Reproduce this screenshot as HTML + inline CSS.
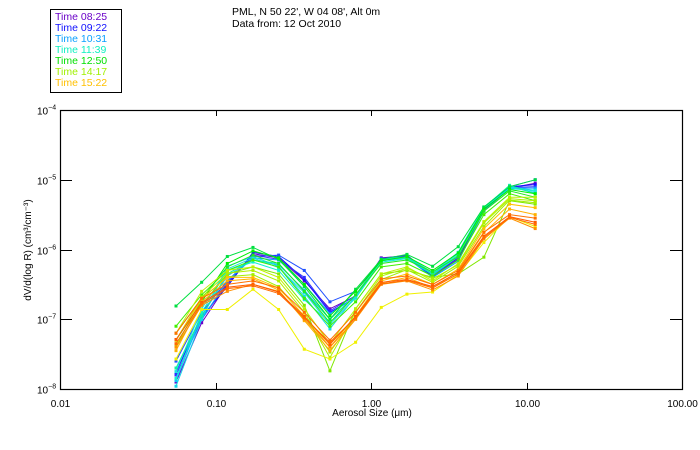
<!DOCTYPE html>
<html><head><meta charset="utf-8"><style>
html,body{margin:0;padding:0;background:#fff;}
svg{display:block;font-family:"Liberation Sans",sans-serif;}
</style></head><body>
<svg id="chart" width="700" height="450" xmlns="http://www.w3.org/2000/svg">
<rect width="700" height="450" fill="#fff"/>
<g>
<rect x="50.5" y="9.5" width="71" height="83" fill="none" stroke="#000" stroke-width="1"/>
<g id="legendItems" font-size="10.5"></g>
</g>
<text x="232" y="15" font-size="10.5" fill="#000">PML, N 50 22', W 04 08', Alt 0m</text>
<text x="232" y="27" font-size="10.5" fill="#000">Data from: 12 Oct 2010</text>
<g id="axes"></g>
<g id="series"></g>
<text x="372" y="416" font-size="10" text-anchor="middle" fill="#000">Aerosol Size (μm)</text>
<text transform="translate(31,250) rotate(-90)" font-size="10" text-anchor="middle" fill="#000">dV/d(log R) (cm³/cm⁻³)</text>
</svg>
<script>
// ---- data ----
const sizesLog = [-1.254,-1.089,-0.924,-0.759,-0.594,-0.429,-0.264,-0.099,0.066,0.231,0.396,0.561,0.726,0.891,1.056]; // log10 of size (µm)
const xTickLabels = ["0.01","0.10","1.00","10.00","100.00"];
const xTickValues = [-2,-1,0,1,2];
const yTickValues = [-4,-5,-6,-7,-8];
const yTickExps = ["−4","−5","−6","−7","−8"];
const legendLabels = ["Time 08:25","Time 09:22","Time 10:31","Time 11:39","Time 12:50","Time 14:17","Time 15:22"];
const legendColors = ["#6a00c8","#1010ff","#0aa0ff","#10f0c0","#00e000","#a0f000","#ffc000"];
// series values: log10 of dV/d(log R)
const sPurple  = [-7.90,-7.05,-6.50,-6.06,-6.12,-6.45,-6.85,-6.67,-6.12,-6.09,-6.38,-6.12,-5.45,-5.12,-5.05];
const sBlue1   = [-7.76,-6.96,-6.53,-6.04,-6.10,-6.43,-6.90,-6.69,-6.14,-6.10,-6.39,-6.14,-5.43,-5.10,-5.07];
const sBlue2   = [-7.60,-6.90,-6.45,-6.10,-6.08,-6.30,-6.75,-6.60,-6.15,-6.10,-6.35,-6.10,-5.40,-5.10,-5.00];
const sBlue3   = [-7.80,-7.00,-6.48,-6.08,-6.14,-6.40,-6.88,-6.66,-6.13,-6.08,-6.37,-6.11,-5.42,-5.11,-5.10];
const sLtBlue  = [-7.70,-7.00,-6.45,-6.12,-6.15,-6.50,-6.92,-6.68,-6.16,-6.12,-6.40,-6.17,-5.45,-5.12,-5.12];
const sLtBlue2 = [-7.88,-6.95,-6.38,-6.15,-6.22,-6.58,-7.00,-6.66,-6.15,-6.11,-6.36,-6.10,-5.41,-5.11,-5.15];
const sCyan1   = [-7.96,-7.00,-6.24,-6.10,-6.24,-6.67,-7.14,-6.67,-6.14,-6.10,-6.33,-6.04,-5.39,-5.10,-5.19];
const sCyan2   = [-7.85,-6.90,-6.30,-6.18,-6.30,-6.72,-7.05,-6.70,-6.18,-6.13,-6.36,-6.10,-5.42,-5.13,-5.15];
const sCyan3   = [-7.75,-6.85,-6.28,-6.12,-6.26,-6.62,-7.08,-6.68,-6.16,-6.12,-6.34,-6.06,-5.40,-5.09,-5.17];
const sAqua    = [-7.70,-6.95,-6.35,-6.15,-6.20,-6.60,-7.00,-6.65,-6.15,-6.12,-6.35,-6.08,-5.40,-5.08,-5.20];
const sGreen1  = [-6.81,-6.47,-6.10,-5.97,-6.14,-6.53,-7.00,-6.57,-6.14,-6.07,-6.24,-5.96,-5.39,-5.10,-5.00];
const sGreen2  = [-7.30,-6.75,-6.20,-6.02,-6.12,-6.50,-6.95,-6.60,-6.16,-6.10,-6.30,-6.05,-5.42,-5.14,-5.20];
const sGreen3  = [-7.10,-6.65,-6.30,-6.15,-6.25,-6.70,-7.10,-6.75,-6.25,-6.20,-6.38,-6.15,-5.50,-5.20,-5.30];
const sGreen4  = [-7.40,-6.80,-6.35,-6.25,-6.35,-6.80,-7.74,-6.85,-6.35,-6.30,-6.40,-6.35,-6.11,-5.30,-5.35];
const sGreen5  = [-7.20,-6.70,-6.25,-6.08,-6.20,-6.60,-7.05,-6.65,-6.20,-6.15,-6.32,-6.10,-5.45,-5.16,-5.25];
const sYGreen1 = [-7.39,-6.71,-6.39,-6.36,-6.53,-6.96,-7.47,-6.96,-6.43,-6.29,-6.47,-6.24,-5.67,-5.29,-5.33];
const sYGreen2 = [-7.20,-6.60,-6.30,-6.25,-6.40,-6.85,-7.35,-6.85,-6.35,-6.25,-6.45,-6.20,-5.60,-5.25,-5.25];
const sYGreen3 = [-7.30,-6.68,-6.34,-6.30,-6.45,-6.90,-7.55,-6.90,-6.38,-6.27,-6.42,-6.22,-5.62,-5.27,-5.30];
const sYellow  = [-7.57,-6.86,-6.86,-6.57,-6.86,-7.43,-7.57,-7.33,-6.83,-6.64,-6.61,-6.36,-5.90,-5.53,-5.67];
const sGold    = [-7.30,-6.70,-6.40,-6.40,-6.55,-6.95,-7.40,-6.95,-6.45,-6.35,-6.50,-6.28,-5.70,-5.35,-5.40];
const sGold2   = [-7.45,-6.75,-6.45,-6.42,-6.58,-7.02,-7.45,-7.00,-6.48,-6.40,-6.55,-6.32,-5.76,-5.42,-5.50];
const sOrange1 = [-7.40,-6.80,-6.60,-6.50,-6.60,-7.00,-7.40,-7.00,-6.50,-6.45,-6.58,-6.38,-5.85,-5.55,-5.70];
const sOrange2 = [-7.20,-6.70,-6.50,-6.45,-6.55,-6.90,-7.30,-6.90,-6.42,-6.38,-6.50,-6.30,-5.75,-5.50,-5.55];
const sRed     = [-7.29,-6.76,-6.54,-6.50,-6.61,-6.96,-7.36,-6.96,-6.47,-6.43,-6.53,-6.33,-5.81,-5.53,-5.61];
const sRed2    = [-7.35,-6.78,-6.56,-6.52,-6.63,-6.98,-7.33,-6.98,-6.49,-6.44,-6.55,-6.35,-5.83,-5.54,-5.64];
const seriesList = [sPurple,sBlue1,sBlue2,sBlue3,sLtBlue,sLtBlue2,sCyan1,sCyan2,sCyan3,sAqua,sGreen1,sGreen2,sGreen3,sGreen4,sGreen5,sYGreen1,sYGreen2,sYGreen3,sYellow,sGold,sGold2,sOrange1,sOrange2,sRed,sRed2];
const seriesColors = ["#6a00c8","#1010ff","#2050ff","#3030ff","#0aa0ff","#10c0ff","#10d8e8","#10f0d0","#20e0e0","#10f0a0","#00e040","#00f000","#40f000","#80e800","#20e820","#a0f000","#c0f000","#b0f000","#f0f000","#ffc000","#ffb000","#ff9000","#ff7000","#ff5a00","#ff6a00"];

// ---- axes ----
const X0=60, X1=682, Y0=110, Y1=389;
const xMin=-2, xMax=2, yMin=-8, yMax=-4;
function xs(v){return X0+(v-xMin)/(xMax-xMin)*(X1-X0);}
function ys(v){return Y1-(v-yMin)/(yMax-yMin)*(Y1-Y0);}
const NS="http://www.w3.org/2000/svg";
function mk(tag,attrs,parent){const e=document.createElementNS(NS,tag);for(const k in attrs)e.setAttribute(k,attrs[k]);parent.appendChild(e);return e;}
const axes=document.getElementById('axes');
const frame=mk('rect',{x:X0+0.5,y:Y0+0.5,width:X1-X0,height:Y1-Y0,fill:'none',stroke:'#000','stroke-width':1.2},axes);


xTickValues.forEach((v,i)=>{
  const x=Math.round(xs(v))+0.5;
  const t1=mk('line',{x1:x,x2:x,y1:Y1,y2:Y1-6,stroke:'#000'},axes);
  
  
  const t2=mk('line',{x1:x,x2:x,y1:Y0,y2:Y0+6,stroke:'#000'},axes);
  
  
  const lb=mk('text',{x:x,y:Y1+18,'font-size':10,'text-anchor':'middle',fill:'#000'},axes);
  lb.textContent=xTickLabels[i];
  
  
});
yTickValues.forEach((v,i)=>{
  const y=Math.round(ys(v))+0.5;
  const t1=mk('line',{x1:X0,x2:X0+12,y1:y,y2:y,stroke:'#000'},axes);
  
  
  const t2=mk('line',{x1:X1-12,x2:X1,y1:y,y2:y,stroke:'#000'},axes);
  
  
  const lb=mk('text',{x:37,y:y+4,'font-size':10,fill:'#000'},axes);
  lb.textContent='10';
  
  
  const sp=mk('tspan',{dx:0,dy:-5,'font-size':7},lb);
  sp.textContent=yTickExps[i];
});
// legend
const lg=document.getElementById('legendItems');
legendLabels.forEach((s,i)=>{
  const t=mk('text',{x:55,y:20+i*11,fill:legendColors[i]},lg);
  t.textContent=s;
  
  
});
// series
const sg=document.getElementById('series');
seriesList.forEach((vals,si)=>{
  const g=mk('g',{},sg);
  
  
  const pts=vals.map((v,i)=>xs(sizesLog[i]).toFixed(1)+','+ys(v).toFixed(1)).join(' ');
  mk('polyline',{points:pts,fill:'none',stroke:seriesColors[si],'stroke-width':1},g);
  vals.forEach((v,i)=>{
    const r=mk('rect',{x:xs(sizesLog[i])-1.5,y:ys(v)-1.5,width:3,height:3,fill:seriesColors[si]},g);
    
    
  });
});
</script>
</body></html>
